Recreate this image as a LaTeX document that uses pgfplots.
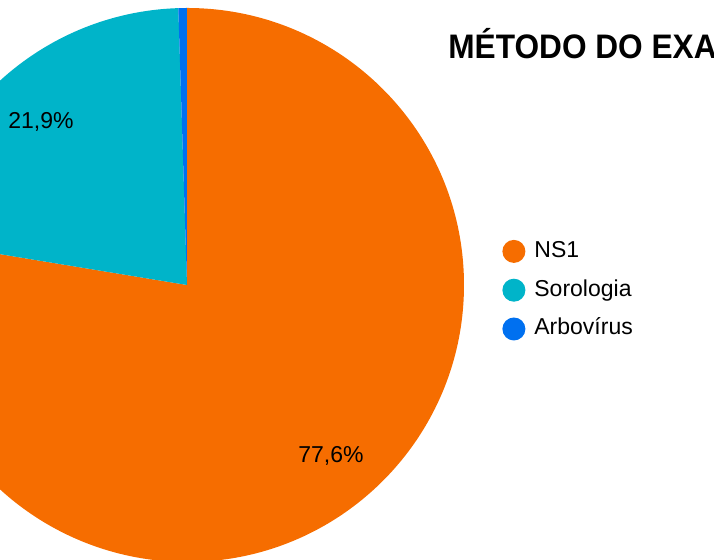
\documentclass[border=0pt]{standalone}
\usepackage{fontspec}
\setmainfont{Liberation Sans}
\usepackage{pgfplots}
\pgfplotsset{compat=1.18}
\definecolor{NSorange}{RGB}{246,109,0}
\definecolor{SoroTeal}{RGB}{0,180,201}
\definecolor{ArboBlue}{RGB}{0,112,240}

\begin{document}
\begin{tikzpicture}
\useasboundingbox (0,0) rectangle (357pt,280pt);
\clip (0,0) rectangle (357pt,280pt);
\begin{axis}[
    at={(0,0)}, anchor=south west,
    scale only axis, width=357pt, height=280pt,
    xmin=-187, xmax=527, ymin=-275, ymax=285,
    hide axis, clip=false,
    legend style={at={(axis cs:315,45.5)}, anchor=north west,
      draw=none, fill=none, inner sep=0pt,
      font=\fontsize{11.5}{14}\selectfont,
      nodes={inner sep=0pt, text height=8.5pt, text depth=2.5pt},
      row sep=7.9pt, column sep=4.5pt},
    legend cell align=left,
    legend image code/.code={\fill[draw=none,#1] (0pt,0pt) circle (5.75pt);},
]
% shares (%): NS1 77.6, Sorologia 21.9, Arbovirus 0.5 -- clockwise from top
\fill[NSorange] (axis cs:0,0) -- ++(90:138.5pt)
  arc[start angle=90, delta angle={-3.6*77.6}, radius=138.5pt] -- cycle;
\fill[SoroTeal] (axis cs:0,0) -- ++({90-3.6*77.6}:138.5pt)
  arc[start angle={90-3.6*77.6}, delta angle={-3.6*21.9}, radius=138.5pt] -- cycle;
\fill[ArboBlue] (axis cs:0,0) -- ++({90-3.6*99.5}:138.5pt)
  arc[start angle={90-3.6*99.5}, delta angle={-3.6*0.5}, radius=138.5pt] -- cycle;

\addlegendimage{fill=NSorange}
\addlegendentry{NS1}
\addlegendimage{fill=SoroTeal}
\addlegendentry{Sorologia}
\addlegendimage{fill=ArboBlue}
\addlegendentry{Arbovírus}

\node[font=\fontsize{11.5}{14}\selectfont] at (axis cs:-146,163) {21,9\%};
\node[font=\fontsize{11.5}{14}\selectfont] at (axis cs:144,-171) {77,6\%};
\node[anchor=west, inner sep=0pt, font=\bfseries\fontsize{17}{20}\selectfont]
  at (axis cs:261,241) {\scalebox{0.93}[1]{MÉTODO DO EXAME}};
\end{axis}
\end{tikzpicture}
\end{document}
